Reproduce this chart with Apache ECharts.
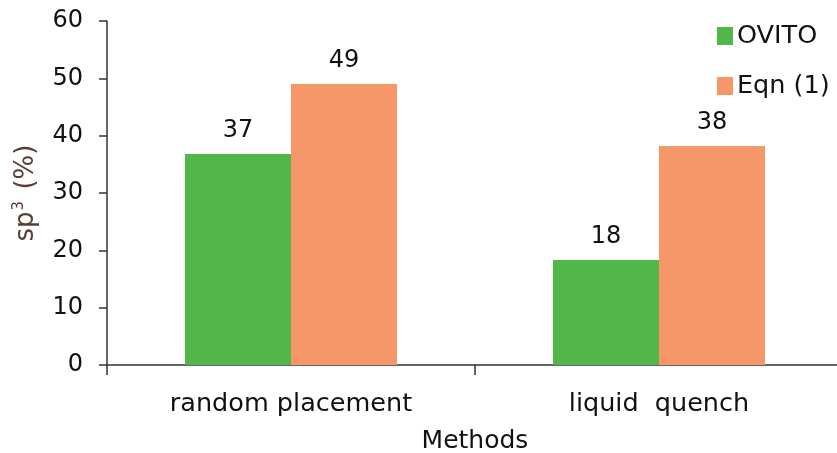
<!DOCTYPE html>
<html>
<head>
<meta charset="utf-8">
<script src="https://cdn.jsdelivr.net/npm/echarts@6/dist/echarts.min.js"></script>
<style>html,body{margin:0;padding:0;background:#fff}#c{width:837px;height:453px}</style>
</head>
<body>
<div id="c"></div>
<script>
const categories = ['random placement', 'liquid  quench'];
const ovito = [36.8, 18.3];
const eqn1 = [49.0, 38.2];
const seriesNames = ['OVITO', 'Eqn (1)'];
const yTicks = { min: 0, max: 60, interval: 10 };

const font = 'DejaVu Sans';
const chart = echarts.init(document.getElementById('c'), null, { renderer: 'canvas' });
const labelCfg = {
  show: true, position: 'top', distance: 11,
  fontFamily: font, fontSize: 24, color: '#111',
  formatter: p => Math.round(p.value)
};
chart.setOption({
  animation: false,
  textStyle: { fontFamily: font },
  grid: { left: 107, top: 21, bottom: 88, width: 736, outerBoundsMode: 'none', containLabel: false },
  legend: {
    orient: 'vertical', left: 712, top: 18,
    itemWidth: 16, itemHeight: 18, itemGap: 24,
    icon: 'rect',
    textStyle: { fontFamily: font, fontSize: 25.5, color: '#111', padding: [0, 0, 0, -1] },
    data: seriesNames
  },
  xAxis: {
    type: 'category', data: categories,
    name: 'Methods', nameLocation: 'middle', nameGap: 64,
    nameTextStyle: { fontFamily: font, fontSize: 25, color: '#111' },
    axisLine: { lineStyle: { color: '#333', width: 1.5 } },
    axisTick: { show: true, length: 10, lineStyle: { color: '#333', width: 1.5 } },
    axisLabel: { fontFamily: font, fontSize: 25.5, color: '#111', margin: 26 }
  },
  yAxis: {
    type: 'value', min: yTicks.min, max: yTicks.max, interval: yTicks.interval,
    name: '{b|sp}{s|3}{b| (%)}', nameLocation: 'middle', nameGap: 66, nameRotate: 90,
    nameTextStyle: {
      fontFamily: font, fontSize: 26, color: '#5a3c30',
      rich: {
        b: { fontFamily: font, fontSize: 26, color: '#5a3c30' },
        s: { fontFamily: font, fontSize: 15, color: '#5a3c30', verticalAlign: 'top', padding: [0, 3, 14, 1] }
      }
    },
    axisLine: { show: true, lineStyle: { color: '#333', width: 1.5 } },
    axisTick: { show: true, length: 8, lineStyle: { color: '#333', width: 1.5 } },
    splitLine: { show: false },
    axisLabel: { fontFamily: font, fontSize: 24, color: '#111', margin: 24 }
  },
  series: [
    { name: seriesNames[0], type: 'bar', data: ovito, barGap: '0%', barCategoryGap: '42.4%',
      itemStyle: { color: '#50b748' }, label: labelCfg },
    { name: seriesNames[1], type: 'bar', data: eqn1,
      itemStyle: { color: '#f59768' }, label: labelCfg }
  ]
});
</script>
</body>
</html>
